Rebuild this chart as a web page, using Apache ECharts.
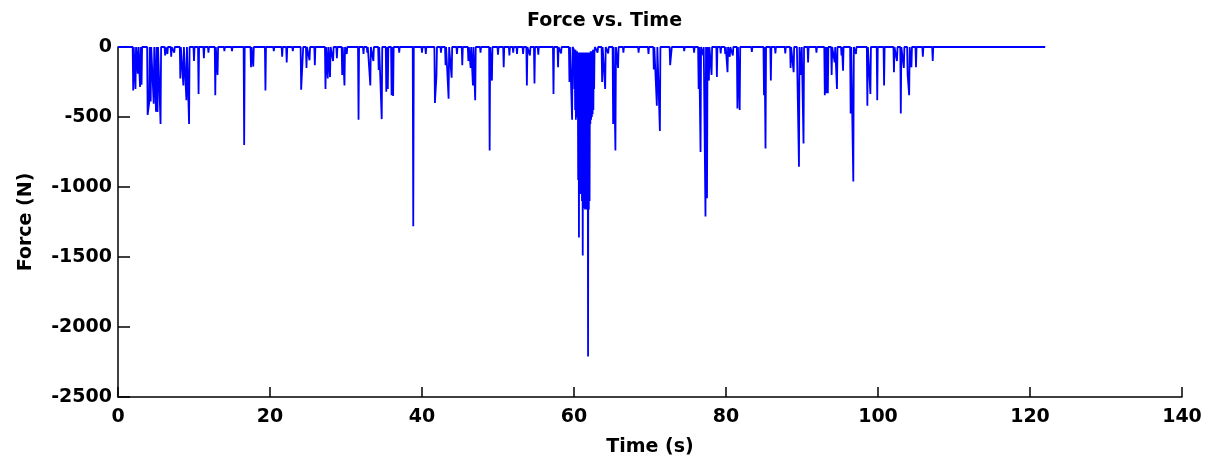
<!DOCTYPE html>
<html>
<head>
<meta charset="utf-8">
<script src="https://cdn.jsdelivr.net/npm/echarts@6/dist/echarts.min.js"></script>
<style>
html,body{margin:0;padding:0;background:#fff;}
#chart{width:1209px;height:466px;}
</style>
</head>
<body>
<div id="chart"></div>
<script>
const titleText = 'Force vs. Time';
const xAxisName = 'Time (s)';
const yAxisName = 'Force (N)';
const xTicks = [0, 20, 40, 60, 80, 100, 120, 140];
const yTicks = [-2500, -2000, -1500, -1000, -500, 0];
const startTime = 0;
const endTime = 122;

// spike samples (time in s, force in N)
const spikeTimes = [
  2.0, 2.3, 2.6, 2.9, 3.1, 3.9, 4.1, 4.3, 4.7, 5.0, 5.2, 5.6, 6.2, 6.5, 7.0, 7.4,
  8.2, 8.6, 9.0, 9.35, 10.0, 10.6, 11.3, 11.9, 12.8, 13.1, 14.0, 15.0, 16.6, 17.5, 17.8,
  19.4, 20.5, 21.6, 22.2, 23.0, 24.1, 24.3, 24.8, 25.2, 25.9, 27.3, 27.6, 27.9, 28.3, 28.8,
  29.5, 29.8, 30.1, 31.65, 32.3, 32.8, 33.2, 33.6, 34.3, 34.7, 35.3, 35.5, 36.0, 36.2, 37.0,
  38.85, 40.0, 40.5, 41.7, 41.9, 42.5, 43.1, 43.5, 43.9, 44.6, 45.3, 46.1, 46.4, 46.7, 47.0,
  47.7, 48.9, 49.2, 50.0, 50.75, 51.5, 52.0, 52.5, 53.3, 53.8, 54.2, 54.8, 55.3, 57.3, 57.9,
  58.3, 59.4, 59.75,
  60.00, 60.05, 60.10, 60.15, 60.20, 60.25, 60.30, 60.35, 60.40, 60.45, 60.50, 60.55, 60.60,
  60.65, 60.70, 60.75, 60.80, 60.85, 60.90, 60.95, 61.00, 61.05, 61.10, 61.15, 61.20, 61.25,
  61.30, 61.35, 61.40, 61.45, 61.50, 61.55, 61.60, 61.65, 61.70, 61.75, 61.80, 61.85, 61.90,
  61.95, 62.00, 62.05, 62.10, 62.15, 62.20, 62.25, 62.30, 62.35, 62.40, 62.45, 62.50, 62.55,
  62.60, 62.65, 62.70,
  63.1, 63.7, 64.1, 64.5, 65.15, 65.45, 65.8, 66.5, 68.5, 69.8, 70.5, 70.9, 71.3, 72.65, 72.8,
  74.5, 75.8, 76.4, 76.65, 77.0, 77.3, 77.5, 77.75, 78.1, 78.8, 79.3, 79.9, 80.2, 80.5, 80.9,
  81.5, 81.8, 83.4, 85.0, 85.2, 85.9, 86.5, 87.8, 88.5, 88.9, 89.4, 89.6, 89.9, 90.2, 90.8,
  91.9, 93.0, 93.2, 93.4, 93.9, 94.3, 94.6, 95.2, 95.4, 96.4, 96.75, 97.1, 98.6, 99.0, 99.9,
  100.8, 102.1, 102.5, 103.0, 103.4, 103.9, 104.1, 104.4, 105.0, 105.9, 107.2
];
const spikeForces = [
  -310, -300, -190, -285, -270, -485, -400, -390, -405, -462, -465, -550, -60, -50, -70, -40,
  -225, -275, -380, -550, -100, -335, -80, -40, -345, -200, -30, -30, -700, -145, -140,
  -310, -30, -70, -110, -30, -305, -315, -150, -95, -130, -300, -225, -215, -100, -80,
  -200, -275, -50, -520, -50, -40, -275, -100, -165, -515, -320, -300, -345, -350, -40,
  -1280, -40, -50, -400, -210, -40, -130, -370, -220, -50, -130, -100, -150, -275, -380,
  -40, -740, -240, -55, -145, -60, -40, -50, -50, -275, -60, -260, -55, -335, -145,
  -45, -250, -520,
  -20, -300, -20, -450, -20, -520, -30, -480, -30, -500, -40, -950, -40,
  -1360, -50, -1000, -40, -1050, -40, -1000, -50, -1100, -40, -1490, -50, -1150,
  -40, -1100, -50, -1160, -40, -1150, -50, -1160, -40, -1100, -50, -2210, -40,
  -1160, -50, -1100, -40, -550, -30, -520, -30, -500, -30, -480, -20, -450,
  -20, -300, -20,
  -40, -250, -300, -45, -550, -740, -150, -40, -40, -50, -160, -420, -600, -130, -130,
  -30, -40, -300, -750, -60, -1210, -1080, -240, -200, -215, -45, -50, -180, -70, -60,
  -440, -450, -35, -345, -725, -240, -45, -45, -150, -180, -225, -855, -200, -690, -110,
  -40, -345, -330, -330, -200, -110, -300, -60, -170, -475, -960, -50, -420, -335, -380,
  -275, -180, -100, -475, -150, -200, -345, -145, -145, -70, -100
];

// build the line (baseline at zero between isolated spikes)
const linePts = [[startTime, 0]];
for (let i = 0; i < spikeTimes.length; i++) {
  const t = spikeTimes[i], f = spikeForces[i];
  const prev = i > 0 ? spikeTimes[i - 1] : -1;
  const next = i < spikeTimes.length - 1 ? spikeTimes[i + 1] : 1e9;
  if (t - prev > 0.2) linePts.push([t - 0.07, 0]);
  linePts.push([t, f]);
  if (next - t > 0.2) linePts.push([t + 0.07, 0]);
}
linePts.push([endTime, 0]);

const chart = echarts.init(document.getElementById('chart'), null, {renderer: 'canvas'});
const font = '"DejaVu Sans", Verdana, sans-serif';
const txt = {fontFamily: font, fontSize: 19, fontWeight: 'bold', color: '#000'};
chart.setOption({
  animation: false,
  backgroundColor: '#ffffff',
  title: {
    text: titleText, left: 'center', top: 7,
    textStyle: Object.assign({}, txt)
  },
  grid: {left: 118, right: 27, top: 47, bottom: 69, containLabel: false},
  xAxis: {
    type: 'value', min: xTicks[0], max: xTicks[xTicks.length - 1], interval: 20,
    name: xAxisName, nameLocation: 'middle', nameGap: 41,
    nameTextStyle: txt,
    axisLine: {onZero: false, lineStyle: {color: '#000', width: 1.5}},
    axisTick: {inside: true, length: 10, lineStyle: {color: '#000', width: 1.5}},
    axisLabel: Object.assign({}, txt, {margin: 11, formatter: v => String(v)}),
    splitLine: {show: false}
  },
  yAxis: {
    type: 'value', min: yTicks[0], max: yTicks[yTicks.length - 1], interval: 500,
    name: yAxisName, nameLocation: 'middle', nameGap: 82,
    nameTextStyle: txt,
    axisLine: {show: true, onZero: false, lineStyle: {color: '#000', width: 1.5}},
    axisTick: {show: true, inside: true, length: 12, lineStyle: {color: '#000', width: 1.5}},
    axisLabel: Object.assign({}, txt, {margin: 6, formatter: v => String(v)}),
    splitLine: {show: false}
  },
  series: [{
    type: 'line', data: linePts, showSymbol: false, symbol: 'none',
    lineStyle: {color: '#0000ff', width: 1.8}, z: 3
  }]
});
</script>
</body>
</html>
